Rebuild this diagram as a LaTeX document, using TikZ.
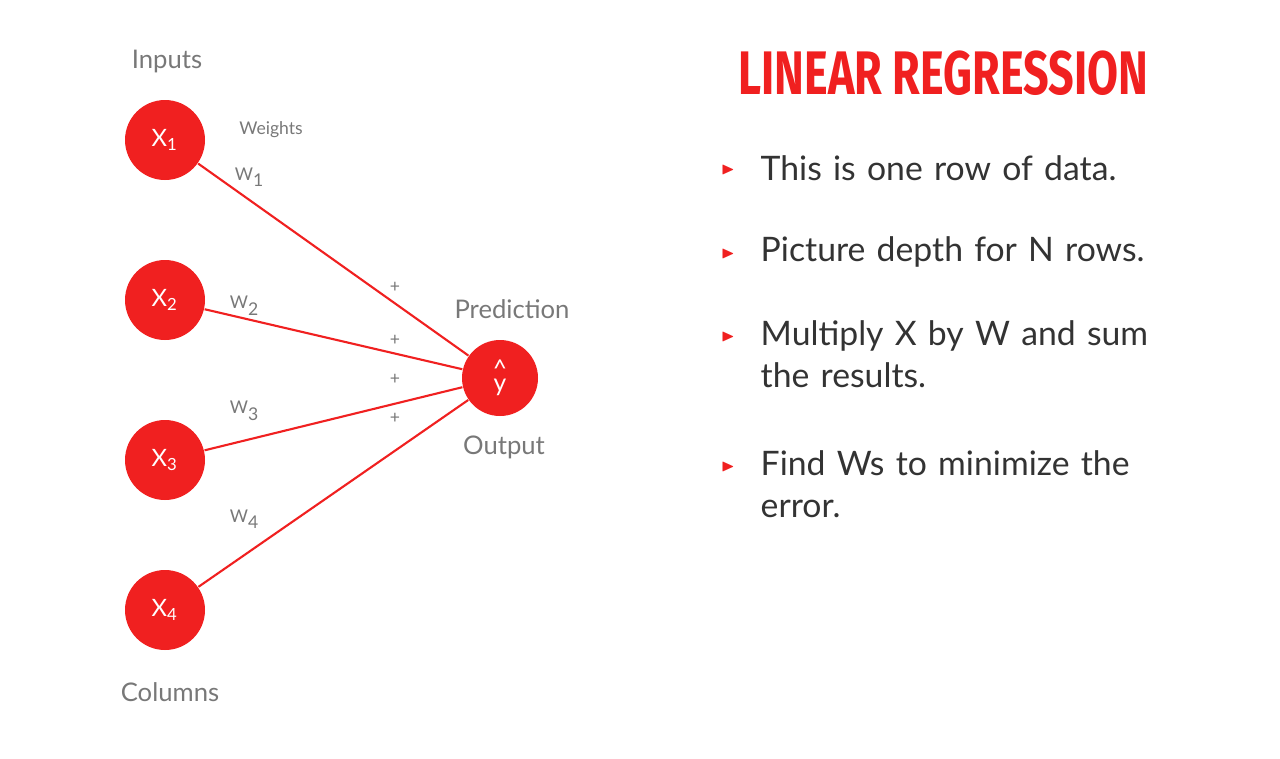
\documentclass[tikz,border=0pt]{standalone}
\usepackage{amssymb}
\usepackage{fontspec}
\setmainfont{Lato}
\newfontfamily\titlefont{Fira Sans}
\definecolor{lrred}{RGB}{240,32,32}
\definecolor{lrgray}{RGB}{120,120,120}
\tikzset{
  unit/.style={circle,fill=lrred,minimum size=0.8cm,inner sep=0pt,text=white,font=\fontsize{6.8}{7}\selectfont},
  lbl/.style={text=lrgray,font=\fontsize{7.3}{8}\selectfont},
  small/.style={text=lrgray,font=\fontsize{5}{5.5}\selectfont},
  link/.style={lrred,line width=0.6pt},
  point/.style={anchor=west,text=black!80,font=\fontsize{9.6}{12}\selectfont,align=left,text width=4.1cm,inner sep=0pt},
  tick/.style={lrred,font=\fontsize{4}{4}\selectfont,anchor=east}
}
\begin{document}
\begin{tikzpicture}[x=0.1mm,y=-0.1mm]
        \useasboundingbox (0,0) rectangle (1280,758);
        \node[unit](x1)at(165,140){X\textsubscript{1}};
        \node[unit](x2)at(165,300){X\textsubscript{2}};
        \node[unit](x3)at(165,460){X\textsubscript{3}};
        \node[unit](x4)at(165,610){X\textsubscript{4}};
        \node[unit,minimum size=0.76cm,align=center,font=\fontsize{7}{5}\selectfont](yh)at(500,378){\^{}\\[-1pt]y};
        \draw[link](x1)--(yh);
        \draw[link](x2)--(yh);
        \draw[link](x3)--(yh);
        \draw[link](x4)--(yh);
        \node[lbl](inputs)at(167,62){Inputs};
        \node[lbl](columns)at(170,692){Columns};
        \node[lbl](pred)at(512,309){Prediction};
        \node[lbl](out)at(504,447){Output};
        \node[small](weights)at(271,130){Weights};
        \node[small](w1)at(250,177){W\textsubscript{1}};
        \node[small](w2)at(245,306){W\textsubscript{2}};
        \node[small](w3)at(245,411){W\textsubscript{3}};
        \node[small](w4)at(245,519){W\textsubscript{4}};
        \foreach \y in {287,340,379,418}
            \node[small](p\y)at(395,\y){+};
        \node[anchor=west,text=lrred,inner sep=0pt,xscale=0.73](title)at(738,73)
            {\titlefont\bfseries\fontsize{17.5}{18}\selectfont LINEAR REGRESSION};
        \node[point](b1)at(760,168){This is one row of data.};
        \node[point](b2)at(760,252){Picture depth for N rows.};
        \node[point,anchor=north west](b3)at(760,320){\hyphenpenalty=10000 Multiply X by W and sum the results.};
        \node[point,anchor=north west](b4)at(760,450){\hyphenpenalty=10000 Find Ws to minimize the error.};
        \foreach \y in {170,254,337,467}
            \node[tick](t\y)at(748,\y){$\blacktriangleright$};
    \end{tikzpicture}
\end{document}
